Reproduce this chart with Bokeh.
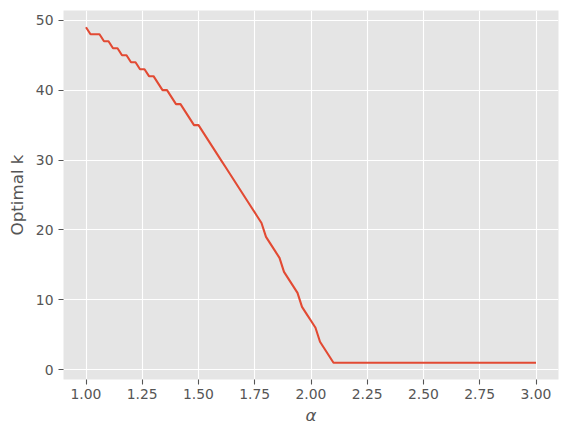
from bokeh.plotting import figure
from bokeh.models import Range1d, FixedTicker, NumeralTickFormatter
from bokeh.embed import file_html
from bokeh.resources import INLINE

alpha = [
    1.00, 1.02, 1.04, 1.06, 1.08, 1.10, 1.12, 1.14, 1.16, 1.18,
    1.20, 1.22, 1.24, 1.26, 1.28, 1.30, 1.32, 1.34, 1.36, 1.38,
    1.40, 1.42, 1.44, 1.46, 1.48, 1.50, 1.52, 1.54, 1.56, 1.58,
    1.60, 1.62, 1.64, 1.66, 1.68, 1.70, 1.72, 1.74, 1.76, 1.78,
    1.80, 1.82, 1.84, 1.86, 1.88, 1.90, 1.92, 1.94, 1.96, 1.98,
    2.00, 2.02, 2.04, 2.06, 2.08, 2.10, 2.12, 2.14, 2.16, 2.18,
    2.20, 2.22, 2.24, 2.26, 2.28, 2.30, 2.32, 2.34, 2.36, 2.38,
    2.40, 2.42, 2.44, 2.46, 2.48, 2.50, 2.52, 2.54, 2.56, 2.58,
    2.60, 2.62, 2.64, 2.66, 2.68, 2.70, 2.72, 2.74, 2.76, 2.78,
    2.80, 2.82, 2.84, 2.86, 2.88, 2.90, 2.92, 2.94, 2.96, 2.98,
    3.00,
]
optimal_k = [
    49, 48, 48, 48, 47, 47, 46, 46, 45, 45,
    44, 44, 43, 43, 42, 42, 41, 40, 40, 39,
    38, 38, 37, 36, 35, 35, 34, 33, 32, 31,
    30, 29, 28, 27, 26, 25, 24, 23, 22, 21,
    19, 18, 17, 16, 14, 13, 12, 11, 9, 8,
    7, 6, 4, 3, 2, 1, 1, 1, 1, 1,
    1, 1, 1, 1, 1, 1, 1, 1, 1, 1,
    1, 1, 1, 1, 1, 1, 1, 1, 1, 1,
    1, 1, 1, 1, 1, 1, 1, 1, 1, 1,
    1, 1, 1, 1, 1, 1, 1, 1, 1, 1,
    1,
]
x_ticks = [1.00, 1.25, 1.50, 1.75, 2.00, 2.25, 2.50, 2.75, 3.00]
y_ticks = [0, 10, 20, 30, 40, 50]

FONT = "DejaVu Sans"
GREY = "#555555"

p = figure(width=560, height=427, output_backend="svg", toolbar_location=None,
           x_range=Range1d(0.9, 3.1), y_range=Range1d(-1.4, 51.4),
           min_border_left=63, min_border_right=2, min_border_top=10,
           min_border_bottom=48)
p.background_fill_color = "#E5E5E5"
p.border_fill_color = "white"
p.outline_line_color = None

p.line(alpha, optimal_k, line_color="#E24A33", line_width=2.1)

for ax in (p.xaxis[0], p.yaxis[0]):
    ax.axis_line_color = None
    ax.major_tick_line_color = GREY
    ax.major_tick_line_width = 1.1
    ax.major_tick_out = 5
    ax.major_tick_in = 0
    ax.minor_tick_line_color = None
    ax.major_label_standoff = 5
    ax.major_label_text_font = FONT
    ax.major_label_text_font_size = "13.9px"
    ax.major_label_text_color = GREY
    ax.axis_label_text_font = FONT
    ax.axis_label_text_font_size = "16.7px"
    ax.axis_label_text_color = GREY

p.xaxis.major_label_standoff = 4
p.xaxis.ticker = FixedTicker(ticks=x_ticks)
p.xaxis.formatter = NumeralTickFormatter(format="0.00")
p.yaxis.ticker = FixedTicker(ticks=y_ticks)

p.xaxis.axis_label = "α"
p.xaxis.axis_label_text_font_style = "italic"
p.xaxis.axis_label_standoff = 3

p.yaxis.axis_label = "Optimal k"
p.yaxis.axis_label_text_font_style = "normal"
p.yaxis.axis_label_standoff = 6

p.grid.grid_line_color = "white"
p.grid.grid_line_width = 1.1
p.xgrid.ticker = FixedTicker(ticks=x_ticks)
p.ygrid.ticker = FixedTicker(ticks=y_ticks)

open("out.html", "w").write(file_html(p, INLINE))
